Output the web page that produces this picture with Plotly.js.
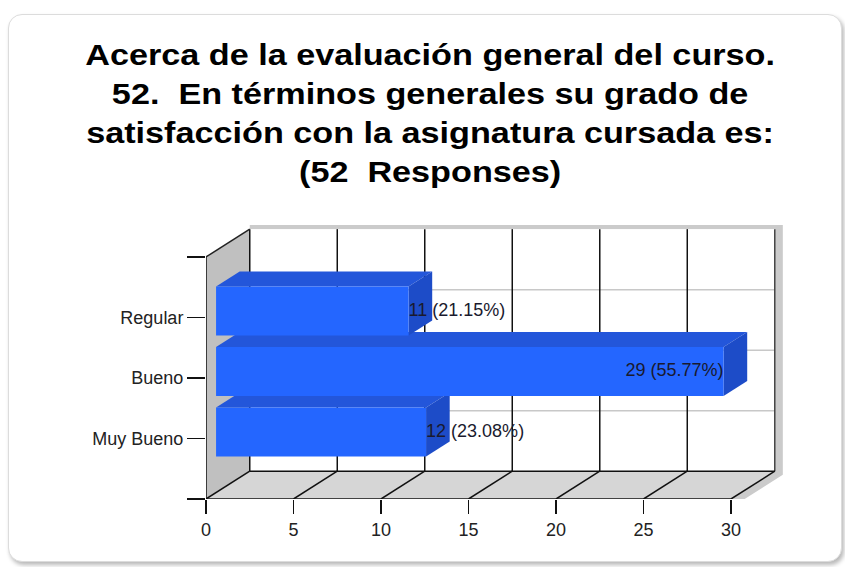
<!DOCTYPE html>
<html>
<head>
<meta charset="utf-8">
<script src="https://cdn.plot.ly/plotly-3.0.1.min.js"></script>
<style>
  html, body { margin: 0; padding: 0; background: #ffffff; }
  #wrap { position: relative; width: 845px; height: 567px; overflow: hidden; }
  #card { position: absolute; left: 8px; top: 14px; width: 832px; height: 546px;
          border: 1px solid #dcdcdc; border-radius: 14px; background: #ffffff;
          box-shadow: 2px 3px 4px rgba(0,0,0,0.28); }
  #chart { position: absolute; left: 0; top: 0; width: 845px; height: 567px; }
  .gtitle { transform-box: fill-box; transform-origin: center; transform: scaleX(1.14); }
</style>
</head>
<body>
<div id="wrap">
  <div id="card"></div>
  <div id="chart"></div>
</div>
<script>
// ---- data ----
const categories = ['Muy Bueno', 'Bueno', 'Regular'];
const counts = [12, 29, 11];
const percents = ['23.08%', '55.77%', '21.15%'];
const xTicks = [0, 5, 10, 15, 20, 25, 30];
const titleLines = [
  'Acerca de la evaluación general del curso.',
  '52.\u00a0 En términos generales su grado de',
  'satisfacción con la asignatura cursada es:',
  '(52\u00a0 Responses)'
];

// ---- pseudo-3D geometry (in axis units) ----
const XMAX = 30;             // value axis max
const DX = 2.5, DY = 0.46;   // depth offset of back wall
const D0 = 0.23, D1 = 0.77;  // bar front/back depth fraction
const H = 0.405;             // half bar thickness
const YMIN = -1, YMAX = 3;

const frontCol = '#2466ff', topCol = '#2356da', sideCol = '#1d4cc8';

const traces = [];
const shapes = [];

function poly(xs, ys, color) {
  traces.push({type: 'scatter', mode: 'lines', x: xs.concat([xs[0]]), y: ys.concat([ys[0]]),
    fill: 'toself', fillcolor: color, line: {width: 0, color: color},
    hoverinfo: 'skip', showlegend: false});
}
function seg(x0, y0, x1, y1, color, w) {
  shapes.push({type: 'line', xref: 'x', yref: 'y', x0: x0, y0: y0, x1: x1, y1: y1,
    line: {color: color, width: w}, layer: 'below'});
}
function pathShape(pts, fill) {
  const d = 'M' + pts.map(p => p[0] + ',' + p[1]).join(' L') + ' Z';
  shapes.push({type: 'path', xref: 'x', yref: 'y', path: d, fillcolor: fill,
    line: {width: 0}, layer: 'below'});
}

// shadow band around back wall
const sx = 0.46, sy = 0.07;
pathShape([[DX, YMAX + DY], [DX, YMAX + DY + sy], [XMAX + DX + sx, YMAX + DY + sy],
  [XMAX + DX + sx, YMIN + DY - 0.06], [XMAX + 0.4, YMIN - 0.07], [XMAX, YMIN],
  [XMAX + DX, YMIN + DY], [XMAX + DX, YMAX + DY]], '#cbcbcb');
// back wall
pathShape([[DX, YMIN + DY], [XMAX + DX, YMIN + DY], [XMAX + DX, YMAX + DY], [DX, YMAX + DY]], '#ffffff');
// left wall
pathShape([[0, YMIN], [DX, YMIN + DY], [DX, YMAX + DY], [0, YMAX]], '#c0c0c0');
// floor
pathShape([[0, YMIN], [XMAX, YMIN], [XMAX + DX, YMIN + DY], [DX, YMIN + DY]], '#d6d6d6');

// horizontal grid lines on the back wall (category centres)
categories.forEach((c, i) => seg(DX, i + DY, XMAX + DX, i + DY, '#c8c8c8', 1.5));
// vertical grid lines on back wall + floor diagonals
xTicks.forEach(t => {
  seg(t + DX, YMIN + DY, t + DX, YMAX + DY, t === XMAX ? '#444444' : '#111111', 1.5);
  seg(t, YMIN, t + DX, YMIN + DY, '#111111', 1.5);
});
// floor back edge and front edge
seg(DX, YMIN + DY, XMAX + DX, YMIN + DY, '#111111', 1.5);
seg(0, YMIN, XMAX, YMIN, '#111111', 1.5);
// left axis line and top-left diagonal
seg(0, YMIN, 0, YMAX, '#111111', 1.5);
seg(0, YMAX, DX, YMAX + DY, '#222222', 1.5);

// bars, drawn bottom category first
categories.forEach((c, i) => {
  const v = counts[i];
  const yb = i - H, yt = i + H;
  // top face
  poly([D0 * DX, v + D0 * DX, v + D1 * DX, D1 * DX],
       [yt + D0 * DY, yt + D0 * DY, yt + D1 * DY, yt + D1 * DY], topCol);
  // side face
  poly([v + D0 * DX, v + D1 * DX, v + D1 * DX, v + D0 * DX],
       [yb + D0 * DY, yb + D1 * DY, yt + D1 * DY, yt + D0 * DY], sideCol);
  // front face
  poly([D0 * DX, v + D0 * DX, v + D0 * DX, D0 * DX],
       [yb + D0 * DY, yb + D0 * DY, yt + D0 * DY, yt + D0 * DY], frontCol);
});

// value labels
traces.push({type: 'scatter', mode: 'text',
  x: counts.map(v => v + D0 * DX),
  y: categories.map((c, i) => i + D0 * DY),
  text: counts.map((v, i) => v + ' (' + percents[i] + ')'),
  textposition: counts.map(v => v > XMAX * 0.8 ? 'middle left' : 'middle right'),
  textfont: {family: 'Liberation Sans, Arial, sans-serif', size: 18, color: '#1a1a2e'},
  cliponaxis: false, hoverinfo: 'skip', showlegend: false});

const layout = {
  width: 845, height: 567,
  paper_bgcolor: 'rgba(0,0,0,0)', plot_bgcolor: 'rgba(0,0,0,0)',
  margin: {l: 206, r: 62, t: 224, b: 68, pad: 0},
  font: {family: 'Liberation Sans, Arial, sans-serif', color: '#222222'},
  title: {text: titleLines.join('<br>'), xref: 'container', yref: 'container',
    x: 0.509, xanchor: 'center', y: 0.885, yanchor: 'top',
    font: {family: 'Liberation Sans, Arial, sans-serif', size: 30, color: '#000000', weight: 'bold'}},
  xaxis: {range: [0, XMAX + DX + 0.47], tickvals: xTicks, ticktext: xTicks.map(String),
    ticks: 'outside', ticklen: 14, tickwidth: 1.5, tickcolor: '#111111',
    showgrid: false, zeroline: false, showline: false, fixedrange: true,
    tickfont: {size: 18, color: '#222222'}},
  yaxis: {range: [YMIN, YMAX + DY + 0.085],
    tickvals: [YMIN, 0, 1, 2, YMAX], ticktext: [''].concat(categories, ['']),
    ticks: 'outside', ticklen: 18, tickwidth: 1.5, tickcolor: '#111111',
    showgrid: false, zeroline: false, showline: false, fixedrange: true,
    tickfont: {size: 18, color: '#222222'}},
  shapes: shapes,
  showlegend: false
};

Plotly.newPlot('chart', traces, layout, {displayModeBar: false, staticPlot: true});
</script>
</body>
</html>
